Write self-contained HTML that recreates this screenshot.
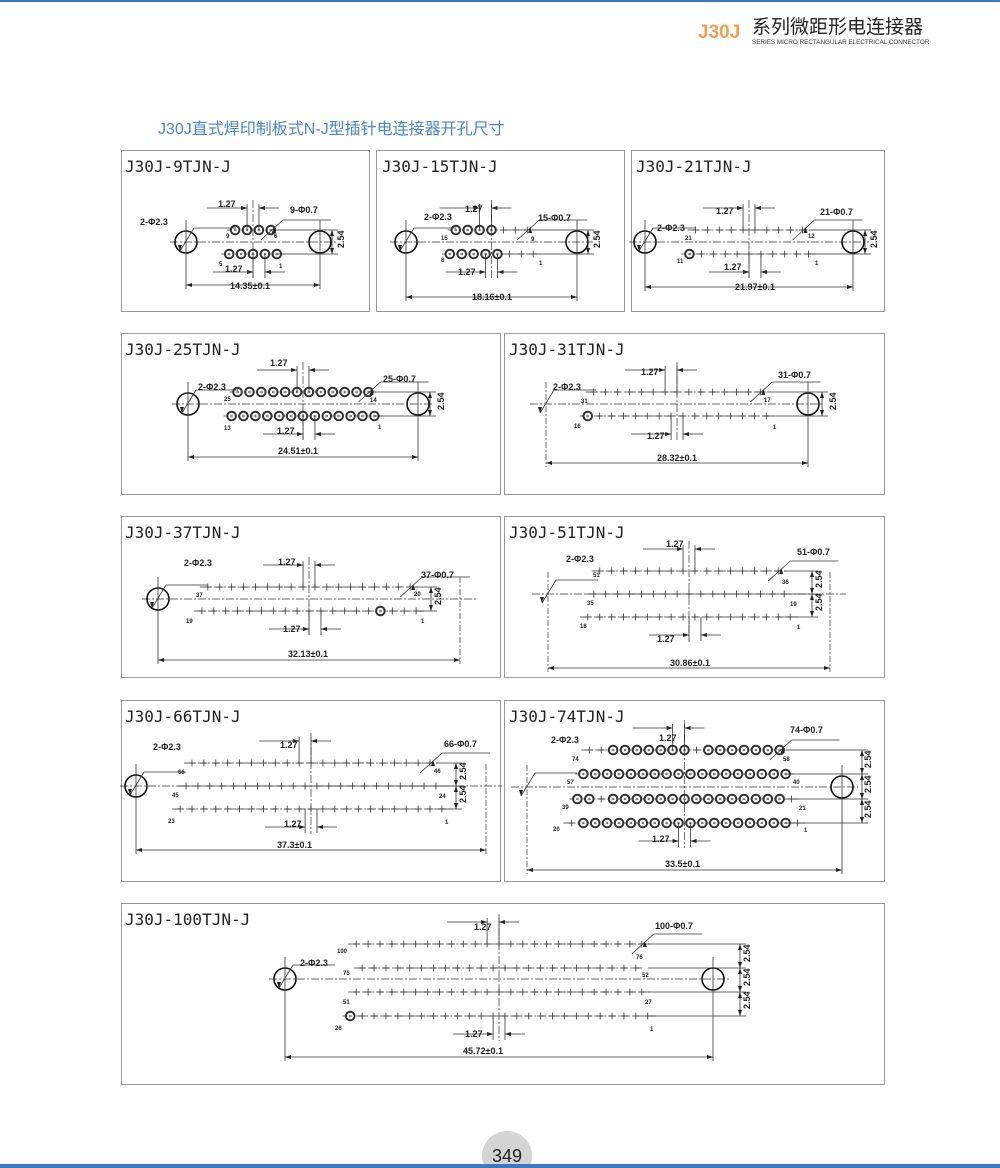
<!DOCTYPE html>
<html><head><meta charset="utf-8">
<style>
html,body{margin:0;padding:0;background:#fff;}
svg{display:block;}
.t{font-family:"Liberation Sans",Arial,sans-serif;font-size:9px;font-weight:bold;fill:#222;}
.s{font-family:"Liberation Sans",Arial,sans-serif;font-size:6px;font-weight:bold;fill:#222;}
.h{font-family:"DejaVu Sans Mono","Liberation Mono",monospace;font-size:16px;fill:#222;}
</style></head><body>
<svg id="sv" width="1000" height="1168" viewBox="0 0 1000 1168" xmlns="http://www.w3.org/2000/svg">
<rect x="0" y="0" width="1000" height="2" fill="#3d78c0"/>
<text x="698" y="38" font-family="Liberation Sans,sans-serif" font-weight="bold" font-size="19" fill="#f0a050">J30J</text>
<text x="752" y="33" font-family="Liberation Sans,'Noto Sans CJK SC',sans-serif" font-size="19" fill="#222">系列微距形电连接器</text>
<text x="752" y="44" font-family="Liberation Sans,sans-serif" font-size="6.3" fill="#333">SERIES MICRO RECTANGULAR ELECTRICAL CONNECTOR</text>
<text x="158" y="134" font-family="Liberation Sans,'Noto Sans CJK SC',sans-serif" font-size="16" fill="#4a86c8">J30J直式焊印制板式N-J型插针电连接器开孔尺寸</text>
<g fill="none" stroke="#999" stroke-width="1">
<rect x="121.5" y="150.5" width="248" height="161"/>
<rect x="376.5" y="150.5" width="248" height="161"/>
<rect x="631.5" y="150.5" width="253" height="161"/>
<rect x="121.5" y="333.5" width="379" height="161"/>
<rect x="504.5" y="333.5" width="380" height="161"/>
<rect x="121.5" y="516.5" width="379" height="161"/>
<rect x="504.5" y="516.5" width="380" height="161"/>
<rect x="121.5" y="700.5" width="379" height="181"/>
<rect x="504.5" y="700.5" width="380" height="181"/>
<rect x="121.5" y="903.5" width="763" height="181"/>
</g>
<g class="h">
<text x="125" y="172">J30J-9TJN-J</text>
<text x="382" y="172">J30J-15TJN-J</text>
<text x="636" y="172">J30J-21TJN-J</text>
<text x="125" y="355">J30J-25TJN-J</text>
<text x="509" y="355">J30J-31TJN-J</text>
<text x="125" y="538">J30J-37TJN-J</text>
<text x="509" y="538">J30J-51TJN-J</text>
<text x="125" y="722">J30J-66TJN-J</text>
<text x="509" y="722">J30J-74TJN-J</text>
<text x="125" y="925">J30J-100TJN-J</text>
</g>
<g id="geo"></g>
<g class="t">
<text x="218" y="207">1.27</text><text x="290" y="213">9-Φ0.7</text><text x="140" y="225">2-Φ2.3</text><text x="225" y="272">1.27</text><text x="230" y="289">14.35±0.1</text>
<text x="465" y="212">1.27</text><text x="538" y="221">15-Φ0.7</text><text x="424" y="220">2-Φ2.3</text><text x="458" y="275">1.27</text><text x="472" y="300">18.16±0.1</text>
<text x="716" y="214">1.27</text><text x="820" y="215">21-Φ0.7</text><text x="657" y="231">2-Φ2.3</text><text x="724" y="270">1.27</text><text x="735" y="290">21.97±0.1</text>
<text x="270" y="366">1.27</text><text x="383" y="382">25-Φ0.7</text><text x="198" y="390">2-Φ2.3</text><text x="277" y="434">1.27</text><text x="278" y="454">24.51±0.1</text>
<text x="641" y="375">1.27</text><text x="778" y="378">31-Φ0.7</text><text x="553" y="390">2-Φ2.3</text><text x="647" y="439">1.27</text><text x="657" y="461">28.32±0.1</text>
<text x="278" y="565">1.27</text><text x="421" y="578">37-Φ0.7</text><text x="184" y="566">2-Φ2.3</text><text x="283" y="632">1.27</text><text x="288" y="657">32.13±0.1</text>
<text x="666" y="547">1.27</text><text x="797" y="555">51-Φ0.7</text><text x="566" y="562">2-Φ2.3</text><text x="657" y="642">1.27</text><text x="670" y="666">30.86±0.1</text>
<text x="280" y="748">1.27</text><text x="444" y="747">66-Φ0.7</text><text x="153" y="750">2-Φ2.3</text><text x="284" y="827">1.27</text><text x="277" y="848">37.3±0.1</text>
<text x="659" y="741">1.27</text><text x="790" y="733">74-Φ0.7</text><text x="551" y="743">2-Φ2.3</text><text x="652" y="842">1.27</text><text x="665" y="867">33.5±0.1</text>
<text x="474" y="930">1.27</text><text x="655" y="929">100-Φ0.7</text><text x="300" y="966">2-Φ2.3</text><text x="465" y="1037">1.27</text><text x="463" y="1054">45.72±0.1</text>
<text transform="translate(344,248) rotate(-90)">2.54</text>
<text transform="translate(600,248) rotate(-90)">2.54</text>
<text transform="translate(877,248) rotate(-90)">2.54</text>
<text transform="translate(444,410) rotate(-90)">2.54</text>
<text transform="translate(836,410) rotate(-90)">2.54</text>
<text transform="translate(441,605) rotate(-90)">2.54</text>
<text transform="translate(822,588) rotate(-90)">2.54</text><text transform="translate(822,611) rotate(-90)">2.54</text>
<text transform="translate(466,780) rotate(-90)">2.54</text><text transform="translate(466,803) rotate(-90)">2.54</text>
<text transform="translate(871,768) rotate(-90)">2.54</text><text transform="translate(871,793) rotate(-90)">2.54</text><text transform="translate(871,818) rotate(-90)">2.54</text>
<text transform="translate(750,962) rotate(-90)">2.54</text><text transform="translate(750,986) rotate(-90)">2.54</text><text transform="translate(750,1009) rotate(-90)">2.54</text>
</g>
<g class="s">
<text x="226" y="238">9</text><text x="274" y="238">6</text><text x="219" y="266">5</text><text x="279" y="268">1</text>
<text x="441" y="240">15</text><text x="531" y="241">9</text><text x="441" y="262">8</text><text x="539" y="265">1</text>
<text x="685" y="240">21</text><text x="808" y="238">12</text><text x="677" y="263">11</text><text x="815" y="265">1</text>
<text x="224" y="401">25</text><text x="370" y="402">14</text><text x="224" y="430">13</text><text x="378" y="429">1</text>
<text x="581" y="403">31</text><text x="764" y="402">17</text><text x="574" y="428">16</text><text x="773" y="429">1</text>
<text x="196" y="597">37</text><text x="414" y="596">20</text><text x="186" y="623">19</text><text x="421" y="623">1</text>
<text x="593" y="577">51</text><text x="782" y="584">36</text><text x="587" y="605">35</text><text x="790" y="606">19</text><text x="580" y="628">18</text><text x="797" y="629">1</text>
<text x="178" y="774">66</text><text x="434" y="773">46</text><text x="172" y="797">45</text><text x="439" y="798">24</text><text x="168" y="823">23</text><text x="445" y="824">1</text>
<text x="572" y="761">74</text><text x="783" y="761">58</text><text x="567" y="784">57</text><text x="793" y="784">40</text><text x="562" y="809">39</text><text x="799" y="810">21</text><text x="553" y="831">20</text><text x="804" y="832">1</text>
<text x="337" y="953">100</text><text x="636" y="959">76</text><text x="343" y="975">75</text><text x="642" y="977">52</text><text x="343" y="1004">51</text><text x="645" y="1004">27</text><text x="335" y="1030">26</text><text x="650" y="1031">1</text>
</g>
<circle cx="507" cy="1156" r="25" fill="#d4d4d4"/>
<text x="507" y="1162" text-anchor="middle" font-family="Liberation Sans,sans-serif" font-size="18" fill="#222">349</text>
<rect x="0" y="1164" width="1000" height="4" fill="#3d78c0"/>
</svg>
<script>
var NS="http://www.w3.org/2000/svg",G=document.getElementById("geo"),P=11.9;
function el(n,a){var e=document.createElementNS(NS,n);for(var k in a)e.setAttribute(k,a[k]);G.appendChild(e);return e;}
function ln(x1,y1,x2,y2,d){el("line",{x1:x1,y1:y1,x2:x2,y2:y2,stroke:"#333","stroke-width":d?0.7:0.8,"stroke-dasharray":d||""});}
function arr(x,y,dir){var s=6,w=2;var p=dir=="r"?[x,y,x-s,y-w,x-s,y+w]:dir=="l"?[x,y,x+s,y-w,x+s,y+w]:dir=="d"?[x,y,x-w,y-s,x+w,y-s]:[x,y,x-w,y+s,x+w,y+s];el("polygon",{points:p.join(","),fill:"#222"});}
function pin(x,y,c){if(c){el("circle",{cx:x,cy:y,r:4.3,fill:"#fff",stroke:"#333","stroke-width":2});el("circle",{cx:x,cy:y,r:1.3,fill:"#777"});}
 else{ln(x-3.5,y,x+3.5,y);ln(x,y-3.5,x,y+3.5);}}
function P1(o){
 var cy=o.cy,mid=(o.h1+o.h2)/2;
 ln(o.h1-16,cy,o.h2+16,cy,"8,2,2,2");
 o.rows.forEach(function(r){var n=r[1],x0=mid-(n-1)*P/2;ln(x0-8,r[0],x0+(n-1)*P+8,r[0],"8,2,2,2");
  for(var i=0;i<n;i++)pin(x0+i*P,r[0],r[2]=="o"?true:(r[2]||[]).indexOf(i)>=0);});
 var ytop=o.rows[0][0],ybot=o.rows[o.rows.length-1][0];
 ln(mid,ytop-30,mid,ybot+25,"8,2,2,2");
 if(o.hl!==false){el("circle",{cx:o.h1,cy:cy,r:11,fill:"none",stroke:"#111","stroke-width":1.6});}
 if(o.hr!==false){el("circle",{cx:o.h2,cy:cy,r:11,fill:"none",stroke:"#111","stroke-width":1.6});}
 ln(o.h1,cy-22,o.h1,o.dy+4,o.hl===false?"6,2,2,2":"");ln(o.h2,cy-22,o.h2,o.dy+4,o.hr===false?"6,2,2,2":"");
 ln(o.h1,o.dy,o.h2,o.dy);arr(o.h1,o.dy,"l");arr(o.h2,o.dy,"r");
 ln(o.h1-6,cy+9,o.h1+8,cy-14);arr(o.h1-6,cy+9,"d");ln(o.h1+8,cy-14,o.h1+50,cy-14);
 var x0=mid-(o.rows[0][1]-1)*P/2,a=x0+Math.round((o.rows[0][1]-1)/2)*P;
 ln(a-P,ytop-26,a-P,ytop);ln(a,ytop-26,a,ytop);ln(a-P-40,ytop-22,a-P,ytop-22);arr(a-P,ytop-22,"r");ln(a,ytop-22,a+20,ytop-22);arr(a,ytop-22,"l");
 ln(a-P+6,ybot,a-P+6,ybot+24);ln(a+6,ybot,a+6,ybot+24);ln(a-P-34,ybot+18,a-P+6,ybot+18);arr(a-P+6,ybot+18,"r");ln(a+6,ybot+18,a+26,ybot+18);arr(a+6,ybot+18,"l");
 var xr=x0+(o.rows[0][1]-1)*P;ln(xr-10,ytop+10,xr+12,ytop-10);arr(xr+3,ytop-3,"u");ln(xr+12,ytop-10,xr+60,ytop-10);
 var vx=o.vx,ys=o.vys;ys.forEach(function(y){ln(xr+6,y,vx+6,y);});
 ln(vx,ys[0],vx,ys[ys.length-1]);for(var i=0;i<ys.length;i++){if(i>0)arr(vx,ys[i],"d");if(i<ys.length-1)arr(vx,ys[i],"u");}
}
var D=[
{h1:186,h2:320,cy:242,dy:285,rows:[[230,4,"o"],[254,5,"o"]],vx:332,vys:[230,254]},
{h1:406,h2:577,cy:242,dy:297,rows:[[230,7,[0,1,2,3]],[254,8,[0,1,2,3,4]]],vx:588,vys:[230,254]},
{h1:645,h2:853,cy:242,dy:287,rows:[[230,10,[]],[254,11,[0]]],vx:865,vys:[230,254]},
{h1:188,h2:418,cy:404,dy:457,rows:[[392,12,"o"],[416,13,"o"]],vx:430,vys:[392,416]},
{h1:546,h2:808,cy:404,dy:463,hl:false,rows:[[392,15,[]],[416,16,[0]]],vx:822,vys:[392,416]},
{h1:158,h2:460,cy:599,dy:660,hr:false,rows:[[587,18,[]],[611,19,[15]]],vx:431,vys:[587,611]},
{h1:548,h2:830,cy:594,dy:668,hl:false,hr:false,rows:[[571,16,[]],[594,17,[]],[617,18,[]]],vx:812,vys:[571,594,617]},
{h1:136,h2:486,cy:786,dy:850,hr:false,rows:[[763,21,[]],[786,22,[]],[809,23,[]]],vx:456,vys:[763,786,809]},
{h1:527,h2:842,cy:787,dy:870,hl:false,rows:[[750,17,[2,3,4,5,6,7,8,10,11,12,13,14,15,16]],[774,18,"o"],[799,19,[0,1,3,4,5,6,7,8,9,10,11,12,13,14,15,16,17]],[823,20,[1,2,3,4,5,6,7,8,9,10,11,12,13,14,15,16,17,18]]],vx:862,vys:[750,774,799,823]},
{h1:285,h2:713,cy:979,dy:1057,rows:[[944,25,[]],[968,24,[]],[992,25,[]],[1016,26,[0]]],vx:740,vys:[944,968,992,1016]}
];
D.forEach(P1);
</script>
</body></html>
